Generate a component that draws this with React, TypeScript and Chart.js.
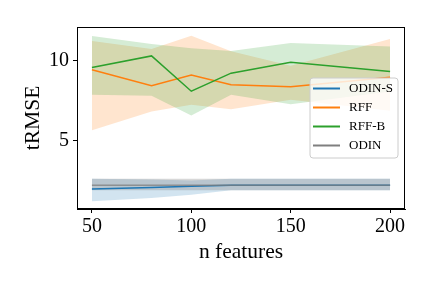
import React, { useEffect, useRef } from "react";
import { Chart, registerables } from "chart.js";

Chart.register(...registerables);

const nFeatures = [50, 80, 100, 120, 150, 200];

const odinSMean = [1.98, 2.07, 2.15, 2.21, 2.21, 2.21];
const odinSUpper = [2.62, 2.58, 2.52, 2.62, 2.62, 2.62];
const odinSLower = [1.21, 1.42, 1.62, 1.9, 1.9, 1.9];

const rffMean = [9.44, 8.44, 9.12, 8.5, 8.38, 8.98];
const rffUpper = [11.25, 10.75, 11.58, 10.6, 9.69, 11.37];
const rffLower = [5.65, 6.83, 7.25, 6.98, 7.56, 6.88];

const rffBMean = [9.58, 10.31, 8.1, 9.23, 9.92, 9.33];
const rffBUpper = [11.56, 11.05, 10.79, 10.62, 11.12, 10.9];
const rffBLower = [7.88, 7.81, 6.58, 7.88, 7.29, 8.08];

const odinMean = [2.21, 2.21, 2.21, 2.21, 2.21, 2.21];
const odinUpper = [2.62, 2.62, 2.62, 2.62, 2.62, 2.62];
const odinLower = [1.9, 1.9, 1.9, 1.9, 1.9, 1.9];

const xTicks = [50, 100, 150, 200];
const yTicks = [5, 10];

const seriesNames = ["ODIN-S", "RFF", "RFF-B", "ODIN"];
const seriesColors = ["#1f77b4", "#ff7f0e", "#2ca02c", "#7f7f7f"];
const bandColors = [
  "rgba(31,119,180,0.2)",
  "rgba(255,127,14,0.2)",
  "rgba(44,160,44,0.2)",
  "rgba(127,127,127,0.3)",
];
const lineColors = ["#1f77b4", "#ff7f0e", "#2ca02c", "rgba(127,127,127,0.75)"];

const FONT = "'Liberation Serif', 'DejaVu Serif', serif";

const pts = (ys: number[]) => nFeatures.map((x, i) => ({ x, y: ys[i] }));

const frameAndLegend = {
  id: "frameAndLegend",
  afterDraw(chart: any) {
    const { ctx, chartArea } = chart;
    ctx.save();
    ctx.strokeStyle = "#000";
    ctx.lineWidth = 1;
    ctx.strokeRect(
      Math.round(chartArea.left) + 0.5,
      Math.round(chartArea.top) + 0.5,
      Math.round(chartArea.right - chartArea.left) - 1,
      Math.round(chartArea.bottom - chartArea.top) - 1
    );
    // legend
    const bx = 310, by = 78, bw = 88, bh = 80, r = 3;
    ctx.beginPath();
    ctx.moveTo(bx + r, by);
    ctx.lineTo(bx + bw - r, by);
    ctx.quadraticCurveTo(bx + bw, by, bx + bw, by + r);
    ctx.lineTo(bx + bw, by + bh - r);
    ctx.quadraticCurveTo(bx + bw, by + bh, bx + bw - r, by + bh);
    ctx.lineTo(bx + r, by + bh);
    ctx.quadraticCurveTo(bx, by + bh, bx, by + bh - r);
    ctx.lineTo(bx, by + r);
    ctx.quadraticCurveTo(bx, by, bx + r, by);
    ctx.closePath();
    ctx.fillStyle = "rgba(255,255,255,0.8)";
    ctx.fill();
    ctx.strokeStyle = "#cccccc";
    ctx.lineWidth = 1;
    ctx.stroke();
    ctx.font = `13px ${FONT}`;
    ctx.textBaseline = "middle";
    ctx.textAlign = "left";
    seriesNames.forEach((name, i) => {
      const y = 88.5 + i * 19;
      ctx.strokeStyle = seriesColors[i];
      ctx.lineWidth = 2;
      ctx.beginPath();
      ctx.moveTo(313, y);
      ctx.lineTo(340, y);
      ctx.stroke();
      ctx.fillStyle = "#000";
      ctx.fillText(name, 349, y + 0.5);
    });
    ctx.restore();
  },
};

export default function App() {
  const ref = useRef<HTMLCanvasElement | null>(null);
  useEffect(() => {
    document.body.style.margin = "0";
    const means = [odinSMean, rffMean, rffBMean, odinMean];
    const uppers = [odinSUpper, rffUpper, rffBUpper, odinUpper];
    const lowers = [odinSLower, rffLower, rffBLower, odinLower];
    const datasets: any[] = [];
    for (let i = 0; i < 4; i++) {
      datasets.push({
        label: seriesNames[i],
        data: pts(means[i]),
        borderColor: lineColors[i],
        borderWidth: 1.5,
        pointRadius: 0,
        fill: false,
        tension: 0,
        order: 10 - i,
      });
    }
    for (let i = 0; i < 4; i++) {
      const upIdx = datasets.length;
      datasets.push({
        label: seriesNames[i] + " upper",
        data: pts(uppers[i]),
        borderWidth: 0,
        borderColor: "rgba(0,0,0,0)",
        backgroundColor: bandColors[i],
        pointRadius: 0,
        fill: upIdx + 1,
        tension: 0,
        order: 30 - i * 2,
      });
      datasets.push({
        label: seriesNames[i] + " lower",
        data: pts(lowers[i]),
        borderWidth: 0,
        borderColor: "rgba(0,0,0,0)",
        pointRadius: 0,
        fill: false,
        tension: 0,
        order: 31 - i * 2,
      });
    }
    const chart = new Chart(ref.current!, {
      type: "line",
      data: { datasets },
      plugins: [frameAndLegend],
      options: {
        animation: false,
        responsive: false,
        maintainAspectRatio: false,
        layout: { padding: { top: 27, right: 27, left: 0, bottom: 0 } },
        plugins: {
          legend: { display: false },
          tooltip: { enabled: false },
        },
        scales: {
          x: {
            type: "linear",
            min: 42.5,
            max: 207.5,
            afterBuildTicks: (s: any) => {
              s.ticks = xTicks.map((v) => ({ value: v }));
            },
            afterFit: (s: any) => {
              s.height = 79;
            },
            grid: {
              display: true,
              drawOnChartArea: false,
              drawTicks: true,
              tickLength: 4,
              color: "#000",
            },
            border: { display: true, color: "#000" },
            ticks: {
              color: "#000",
              font: { family: FONT, size: 20 },
              padding: 2,
              maxRotation: 0,
              callback: (v: any) => String(v),
            },
            title: {
              display: true,
              text: "n features",
              color: "#000",
              font: { family: FONT, size: 21.5 },
              padding: { top: 0, bottom: 23 },
            },
          },
          y: {
            type: "linear",
            min: 0.73,
            max: 12.12,
            afterBuildTicks: (s: any) => {
              s.ticks = yTicks.map((v) => ({ value: v }));
            },
            afterFit: (s: any) => {
              s.width = 77;
            },
            grid: {
              display: true,
              drawOnChartArea: false,
              drawTicks: true,
              tickLength: 4,
              color: "#000",
            },
            border: { display: true, color: "#000" },
            ticks: {
              color: "#000",
              font: { family: FONT, size: 20 },
              padding: 4,
              callback: (v: any) => String(v),
            },
            title: {
              display: true,
              text: "tRMSE",
              color: "#000",
              font: { family: FONT, size: 21.5 },
              padding: { top: 20, bottom: 0 },
            },
          },
        },
      },
    } as any);
    return () => chart.destroy();
  }, []);
  return (
    <div style={{ position: "absolute", left: 0, top: 0, width: 432, height: 288, background: "#fff" }}>
      <canvas ref={ref} width={432} height={288} style={{ width: 432, height: 288, display: "block" }} />
    </div>
  );
}
